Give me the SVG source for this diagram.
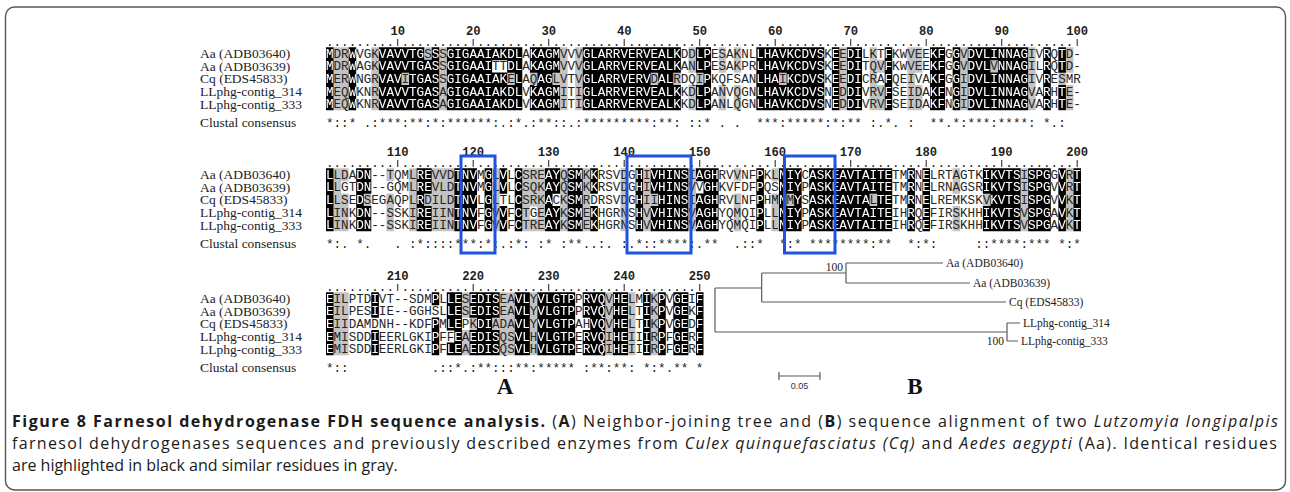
<svg xmlns="http://www.w3.org/2000/svg" width="1290" height="492" viewBox="0 0 1290 492">
<style>
.nm{font-family:"Liberation Serif","Times New Roman",serif;font-size:13.5px;fill:#222}
.sq{font-family:"Liberation Mono","Courier New",monospace;font-size:12.58px}
.cs{font-family:"Liberation Mono","Courier New",monospace;font-size:12.58px;fill:#222}
.num{font-family:"Liberation Mono","Courier New",monospace;font-size:12.2px;font-weight:bold;fill:#222;text-anchor:middle}
.bar{stroke:#333;stroke-width:1.1;fill:none}
.box{fill:none;stroke:#1f52e0;stroke-width:3}
.gr{fill:#c3c3c3}
.br{stroke:#5a5a5a;stroke-width:1.2;fill:none}
.tl{font-family:"Liberation Serif","Times New Roman",serif;font-size:11.5px;fill:#222}
.bs{font-family:"Liberation Sans",Arial,sans-serif;font-size:9px;fill:#333;text-anchor:middle}
.lab{font-family:"Liberation Serif","Times New Roman",serif;font-size:23px;font-weight:bold;fill:#111;text-anchor:middle}
.cap{font-family:"Open Sans","Noto Sans",sans-serif;font-size:16px;fill:#1a1a1a}
</style>
<defs>
<g id="k1" transform="translate(326 47.2) scale(7.55 12.6)"><path d="M0 0h1v1.03h-1z M3 0h1v1.03h-1z M7 0h6v1.03h-6z M14 0h1v1.03h-1z M16 0h10v1.03h-10z M27 0h4v1.03h-4z M34 0h13v1.03h-13z M49 0h2v1.03h-2z M57 0h9v1.03h-9z M67 0h1v1.03h-1z M69 0h2v1.03h-2z M74 0h1v1.03h-1z M80 0h2v1.03h-2z M83 0h1v1.03h-1z M85 0h8v1.03h-8z M95 0h1v1.03h-1z M97 0h1v1.03h-1z M0 1h1v1.03h-1z M3 1h1v1.03h-1z M7 1h8v1.03h-8z M16 1h6v1.03h-6z M24 1h2v1.03h-2z M27 1h4v1.03h-4z M34 1h13v1.03h-13z M49 1h2v1.03h-2z M57 1h9v1.03h-9z M67 1h1v1.03h-1z M69 1h2v1.03h-2z M74 1h1v1.03h-1z M80 1h2v1.03h-2z M83 1h1v1.03h-1z M85 1h3v1.03h-3z M89 1h4v1.03h-4z M95 1h1v1.03h-1z M97 1h1v1.03h-1z M0 2h1v1.03h-1z M3 2h1v1.03h-1z M7 2h3v1.03h-3z M11 2h4v1.03h-4z M16 2h8v1.03h-8z M25 2h1v1.03h-1z M28 2h2v1.03h-2z M34 2h9v1.03h-9z M44 2h2v1.03h-2z M50 2h1v1.03h-1z M57 2h3v1.03h-3z M61 2h5v1.03h-5z M67 2h1v1.03h-1z M69 2h2v1.03h-2z M74 2h1v1.03h-1z M80 2h2v1.03h-2z M83 2h1v1.03h-1z M85 2h8v1.03h-8z M95 2h1v1.03h-1z M0 3h1v2h-1z M3 3h1v2h-1z M7 3h8v2h-8z M16 3h10v2h-10z M27 3h4v2h-4z M34 3h13v2h-13z M49 3h2v2h-2z M57 3h9v2h-9z M67 3h1v2h-1z M69 3h2v2h-2z M74 3h1v2h-1z M80 3h2v2h-2z M83 3h1v2h-1z M85 3h8v2h-8z M95 3h1v2h-1z M97 3h1v2h-1z"/></g>
<g id="k2" transform="translate(326 168.2) scale(7.55 12.6)"><path d="M0 0h1v1.03h-1z M4 0h2v1.03h-2z M12 0h2v1.03h-2z M17 0h3v1.03h-3z M21 0h1v1.03h-1z M23 0h1v1.03h-1z M25 0h1v1.03h-1z M29 0h2v1.03h-2z M32 0h2v1.03h-2z M35 0h1v1.03h-1z M41 0h1v1.03h-1z M43 0h5v1.03h-5z M49 0h3v1.03h-3z M57 0h1v1.03h-1z M60 0h3v1.03h-3z M64 0h11v1.03h-11z M77 0h1v1.03h-1z M79 0h1v1.03h-1z M87 0h5v1.03h-5z M93 0h3v1.03h-3z M97 0h1v1.03h-1z M99 0h1v1.03h-1z M0 1h1v1.03h-1z M4 1h2v1.03h-2z M12 1h2v1.03h-2z M17 1h3v1.03h-3z M21 1h1v1.03h-1z M23 1h1v1.03h-1z M25 1h1v1.03h-1z M29 1h2v1.03h-2z M32 1h2v1.03h-2z M35 1h1v1.03h-1z M41 1h1v1.03h-1z M43 1h5v1.03h-5z M50 1h2v1.03h-2z M57 1h1v1.03h-1z M60 1h3v1.03h-3z M64 1h11v1.03h-11z M77 1h1v1.03h-1z M79 1h1v1.03h-1z M87 1h5v1.03h-5z M93 1h3v1.03h-3z M97 1h1v1.03h-1z M99 1h1v1.03h-1z M0 2h1v1.03h-1z M4 2h1v1.03h-1z M12 2h1v1.03h-1z M17 2h3v1.03h-3z M21 2h1v1.03h-1z M25 2h1v1.03h-1z M29 2h1v1.03h-1z M32 2h2v1.03h-2z M41 2h1v1.03h-1z M44 2h4v1.03h-4z M49 2h3v1.03h-3z M57 2h1v1.03h-1z M60 2h1v1.03h-1z M62 2h1v1.03h-1z M64 2h8v1.03h-8z M73 2h2v1.03h-2z M77 2h1v1.03h-1z M79 2h1v1.03h-1z M88 2h4v1.03h-4z M93 2h3v1.03h-3z M97 2h1v1.03h-1z M99 2h1v1.03h-1z M0 3h1v2h-1z M4 3h2v2h-2z M12 3h2v2h-2z M17 3h3v2h-3z M21 3h1v2h-1z M23 3h1v2h-1z M25 3h1v2h-1z M29 3h2v2h-2z M32 3h2v2h-2z M35 3h1v2h-1z M41 3h1v2h-1z M43 3h5v2h-5z M49 3h3v2h-3z M57 3h1v2h-1z M60 3h3v2h-3z M64 3h11v2h-11z M77 3h1v2h-1z M79 3h1v2h-1z M87 3h5v2h-5z M93 3h3v2h-3z M97 3h1v2h-1z M99 3h1v2h-1z"/></g>
<g id="k3" transform="translate(326 292.2) scale(7.55 12.6)"><path d="M0 0h1v1.03h-1z M6 0h1v1.03h-1z M14 0h1v1.03h-1z M16 0h2v1.03h-2z M19 0h4v1.03h-4z M25 0h2v1.03h-2z M28 0h5v1.03h-5z M34 0h3v1.03h-3z M38 0h2v1.03h-2z M42 0h1v1.03h-1z M44 0h1v1.03h-1z M46 0h2v1.03h-2z M49 0h1v1.03h-1z M0 1h1v1.03h-1z M6 1h1v1.03h-1z M16 1h2v1.03h-2z M19 1h4v1.03h-4z M25 1h2v1.03h-2z M28 1h5v1.03h-5z M34 1h3v1.03h-3z M38 1h2v1.03h-2z M42 1h1v1.03h-1z M44 1h1v1.03h-1z M46 1h2v1.03h-2z M49 1h1v1.03h-1z M0 2h1v1.03h-1z M14 2h1v1.03h-1z M16 2h2v1.03h-2z M20 2h2v1.03h-2z M25 2h2v1.03h-2z M28 2h5v1.03h-5z M35 2h2v1.03h-2z M38 2h2v1.03h-2z M42 2h1v1.03h-1z M44 2h1v1.03h-1z M46 2h2v1.03h-2z M49 2h1v1.03h-1z M0 3h1v1.03h-1z M6 3h1v1.03h-1z M14 3h1v1.03h-1z M17 3h1v1.03h-1z M19 3h4v1.03h-4z M25 3h2v1.03h-2z M28 3h5v1.03h-5z M34 3h3v1.03h-3z M38 3h2v1.03h-2z M42 3h1v1.03h-1z M44 3h1v1.03h-1z M46 3h2v1.03h-2z M49 3h1v1.03h-1z M0 4h1v1h-1z M6 4h1v1h-1z M14 4h1v1h-1z M16 4h2v1h-2z M19 4h4v1h-4z M25 4h2v1h-2z M28 4h5v1h-5z M34 4h3v1h-3z M38 4h2v1h-2z M42 4h1v1h-1z M44 4h1v1h-1z M46 4h2v1h-2z M49 4h1v1h-1z"/></g>
<mask id="mk1" maskUnits="userSpaceOnUse" x="0" y="0" width="1290" height="492"><use href="#k1" fill="#fff"/></mask>
<mask id="mk2" maskUnits="userSpaceOnUse" x="0" y="0" width="1290" height="492"><use href="#k2" fill="#fff"/></mask>
<mask id="mk3" maskUnits="userSpaceOnUse" x="0" y="0" width="1290" height="492"><use href="#k3" fill="#fff"/></mask>
<g id="t1" class="sq">
<text x="326" y="57.8">MDRWVGKVAVVTGSSSGIGAAIAKDLAKAGMVVVGLARRVERVEALKDDLPESAKNLLHAVKCDVSKEEDILKTFKWVEEKFGGVDVLINNAGIVRQTD-</text>
<text x="326" y="70.4">MDRWAGKVAVVTGASSGIGAAITTDLAKAGMVVVGLARRVERVEALKANLPESAKPRLHAVKCDVSKEEDITQVFKWVEEKFGGVDVLVNNAGILRQTD-</text>
<text x="326" y="83">MERWNGRVAVITGASSGIGAAIAKELAQAGLVTVGLARRVERVDALRDQIPKQFSANLHAIKCDVSKEEDICRAFQEIVAKFGGIDVLINNAGIVRESMR</text>
<text x="326" y="95.6">MEQWKNRVAVVTGASAGIGAAIAKDLVKAGMITIGLARRVERVEALKKDLPANVQGNLHAVKCDVSNEDDIVRVFSEIDAKFNGIDVLINNAGVARHTE-</text>
<text x="326" y="108.2">MEQWKNRVAVVTGASAGIGAAIAKDLVKAGMITIGLARRVERVEALKKDLPANLQGNLHAVKCDVSNEDDIVRVFSEIDAKFNGIDVLINNAGVARHTE-</text>
</g>
<g id="t2" class="sq">
<text x="326" y="178.8">LLDADN--TQMLREVVDTNVMGLVLCSREAYQSMKKRSVDGHIVHINSIAGHRVVNFPKLNIYCASKEAVTAITETMRNELRTAGTKIKVTSISPGGVRT</text>
<text x="326" y="191.4">LLGTDN--GQMLREVLDTNVMGLVLCSQKAYQSMKKRSVDGHIVHINSVVGHKVFDFPQSNIYPASKEAVTAITETMRNELRNAGSRIKVTSISPGVVRT</text>
<text x="326" y="204">LLSEDSEGAQPLRDILDTNVLGLTLCSRKACKSMRDRSVDGHIIHINSIAGHRVLNFPHMNMYSASKEAVTALTETMRNELREMKSKVKVTSISPGVVKT</text>
<text x="326" y="216.6">LINKDN--SSKIREIINTNVFGVVFCTGEAYKSMEKHGRNSHVVHINSVAGHYQMQIPLLNIYPASKEAVTAITEIHRQEFIRSKHHIKVTSVSPGAVKT</text>
<text x="326" y="229.2">LINKDN--SSKIREIINTNVFGVVFCTREAYKSMEKHGRNSHVVHINSVAGHYQMQIPLLNIYPASKEAVTAITEIHRQEFIRSKHHIKVTSVSPGAVKT</text>
</g>
<g id="t3" class="sq">
<text x="326" y="302.8">EILPTDIVT--SDMPLLESEDISEAVLYVLGTPPRVQVHELMIKPVGEIF</text>
<text x="326" y="315.4">EILPESIIE--GGHSLLESEDISEAVLYVLGTPPRVQVHELTIKPVGEKF</text>
<text x="326" y="328">EIIDAMDNH--KDFPMLEPKDIADAVLYVLGTPAHVQVHELTIKPVGEDF</text>
<text x="326" y="340.6">EMISDDIEERLGKIPFFEAEDISQSVLHVLGTPERVQIHEIIIRPFGERF</text>
<text x="326" y="353.2">EMISDDIEERLGKIPFLEAEDISQSVLHVLGTPERVQIHEIIIRPFGERF</text>
</g>
</defs>

<rect x="5.5" y="7" width="1280" height="483" rx="9" fill="none" stroke="#555" stroke-width="1.4"/>

<g id="block1">
<g class="nm">
<text x="200" y="58.1">Aa (ADB03640)</text>
<text x="200" y="70.7">Aa (ADB03639)</text>
<text x="200" y="83.3">Cq (EDS45833)</text>
<text x="200" y="95.9">LLphg-contig_314</text>
<text x="200" y="108.5">LLphg-contig_333</text>
<text x="200" y="127.4">Clustal consensus</text>
</g>
<g class="num">
<text x="397.7" y="34.5">10</text><text x="473.2" y="34.5">20</text><text x="548.7" y="34.5">30</text><text x="624.2" y="34.5">40</text><text x="699.7" y="34.5">50</text><text x="775.2" y="34.5">60</text><text x="850.7" y="34.5">70</text><text x="926.2" y="34.5">80</text><text x="1001.7" y="34.5">90</text><text x="1077.2" y="34.5">100</text>
</g>
<text class="cs" x="326" y="46" xml:space="preserve">......... ......... ......... ......... ......... ......... ......... ......... ......... .........</text>
<path class="bar" d="M397.7 39v7M473.2 39v7M548.7 39v7M624.2 39v7M699.7 39v7M775.2 39v7M850.7 39v7M926.2 39v7M1001.7 39v7M1077.2 39v7"/>
<g class="gr" transform="translate(326 47.2) scale(7.55 12.6)"><path d="M1 0h2v1.03h-2z M6 0h1v1.03h-1z M13 0h1v1.03h-1z M15 0h1v1.03h-1z M31 0h1v1.03h-1z M33 0h1v1.03h-1z M48 0h1v1.03h-1z M52 0h1v1.03h-1z M54 0h1v1.03h-1z M68 0h1v1.03h-1z M72 0h1v1.03h-1z M77 0h2v1.03h-2z M84 0h1v1.03h-1z M93 0h1v1.03h-1z M98 0h1v1.03h-1z M1 1h2v1.03h-2z M6 1h1v1.03h-1z M15 1h1v1.03h-1z M31 1h1v1.03h-1z M33 1h1v1.03h-1z M48 1h1v1.03h-1z M52 1h1v1.03h-1z M54 1h1v1.03h-1z M68 1h1v1.03h-1z M72 1h2v1.03h-2z M77 1h2v1.03h-2z M84 1h1v1.03h-1z M88 1h1v1.03h-1z M93 1h1v1.03h-1z M98 1h1v1.03h-1z M1 2h2v1.03h-2z M6 2h1v1.03h-1z M10 2h1v1.03h-1z M15 2h1v1.03h-1z M24 2h1v1.03h-1z M27 2h1v1.03h-1z M30 2h2v1.03h-2z M33 2h1v1.03h-1z M43 2h1v1.03h-1z M46 2h1v1.03h-1z M49 2h1v1.03h-1z M60 2h1v1.03h-1z M68 2h1v1.03h-1z M72 2h1v1.03h-1z M77 2h1v1.03h-1z M84 2h1v1.03h-1z M93 2h1v1.03h-1z M97 2h1v1.03h-1z M1 3h2v2h-2z M6 3h1v2h-1z M15 3h1v2h-1z M31 3h1v2h-1z M33 3h1v2h-1z M48 3h1v2h-1z M52 3h1v2h-1z M54 3h1v2h-1z M68 3h1v2h-1z M72 3h2v2h-2z M77 3h2v2h-2z M84 3h1v2h-1z M93 3h1v2h-1z M98 3h1v2h-1z"/></g>
<use href="#k1" fill="#000"/>
<use href="#t1" fill="#262626"/>
<use href="#t1" fill="#fff" mask="url(#mk1)"/>
<text class="cs" x="326" y="126.9" xml:space="preserve">*::* .:***:**:*:******:.:*.:**::.:*********:**: ::* . .  ***:*****:*:** :.*. :  **.*:***:****: *.:  </text>
</g>

<g id="block2">
<g class="nm">
<text x="200" y="179.1">Aa (ADB03640)</text>
<text x="200" y="191.7">Aa (ADB03639)</text>
<text x="200" y="204.3">Cq (EDS45833)</text>
<text x="200" y="216.9">LLphg-contig_314</text>
<text x="200" y="229.5">LLphg-contig_333</text>
<text x="200" y="248.4">Clustal consensus</text>
</g>
<g class="num">
<text x="397.7" y="155.5">110</text><text x="473.2" y="155.5">120</text><text x="548.7" y="155.5">130</text><text x="624.2" y="155.5">140</text><text x="699.7" y="155.5">150</text><text x="775.2" y="155.5">160</text><text x="850.7" y="155.5">170</text><text x="926.2" y="155.5">180</text><text x="1001.7" y="155.5">190</text><text x="1077.2" y="155.5">200</text>
</g>
<text class="cs" x="326" y="167" xml:space="preserve">......... ......... ......... ......... ......... ......... ......... ......... ......... .........</text>
<path class="bar" d="M397.7 160v7M473.2 160v7M548.7 160v7M624.2 160v7M699.7 160v7M775.2 160v7M850.7 160v7M926.2 160v7M1001.7 160v7M1077.2 160v7"/>
<g class="gr" transform="translate(326 168.2) scale(7.55 12.6)"><path d="M1 0h2v1.03h-2z M8 0h1v1.03h-1z M11 0h1v1.03h-1z M14 0h3v1.03h-3z M22 0h1v1.03h-1z M26 0h3v1.03h-3z M31 0h1v1.03h-1z M34 0h1v1.03h-1z M39 0h1v1.03h-1z M42 0h1v1.03h-1z M48 0h1v1.03h-1z M54 0h1v1.03h-1z M59 0h1v1.03h-1z M83 0h1v1.03h-1z M92 0h1v1.03h-1z M98 0h1v1.03h-1z M1 1h1v1.03h-1z M11 1h1v1.03h-1z M14 1h3v1.03h-3z M22 1h1v1.03h-1z M26 1h3v1.03h-3z M31 1h1v1.03h-1z M34 1h1v1.03h-1z M39 1h1v1.03h-1z M42 1h1v1.03h-1z M48 1h1v1.03h-1z M83 1h1v1.03h-1z M92 1h1v1.03h-1z M98 1h1v1.03h-1z M1 2h2v1.03h-2z M5 2h1v1.03h-1z M8 2h1v1.03h-1z M11 2h1v1.03h-1z M13 2h4v1.03h-4z M22 2h1v1.03h-1z M26 2h3v1.03h-3z M31 2h1v1.03h-1z M34 2h1v1.03h-1z M39 2h1v1.03h-1z M42 2h2v1.03h-2z M48 2h1v1.03h-1z M54 2h1v1.03h-1z M59 2h1v1.03h-1z M61 2h1v1.03h-1z M72 2h1v1.03h-1z M87 2h1v1.03h-1z M92 2h1v1.03h-1z M98 2h1v1.03h-1z M1 3h2v1.03h-2z M8 3h1v1.03h-1z M11 3h1v1.03h-1z M14 3h3v1.03h-3z M22 3h1v1.03h-1z M26 3h1v1.03h-1z M28 3h1v1.03h-1z M31 3h1v1.03h-1z M34 3h1v1.03h-1z M39 3h1v1.03h-1z M42 3h1v1.03h-1z M48 3h1v1.03h-1z M54 3h1v1.03h-1z M59 3h1v1.03h-1z M83 3h1v1.03h-1z M92 3h1v1.03h-1z M98 3h1v1.03h-1z M1 4h2v1h-2z M8 4h1v1h-1z M11 4h1v1h-1z M14 4h3v1h-3z M22 4h1v1h-1z M26 4h3v1h-3z M31 4h1v1h-1z M34 4h1v1h-1z M39 4h1v1h-1z M42 4h1v1h-1z M48 4h1v1h-1z M54 4h1v1h-1z M59 4h1v1h-1z M83 4h1v1h-1z M92 4h1v1h-1z M98 4h1v1h-1z"/></g>
<use href="#k2" fill="#000"/>
<use href="#t2" fill="#262626"/>
<use href="#t2" fill="#fff" mask="url(#mk2)"/>
<text class="cs" x="326" y="247.9" xml:space="preserve">*:. *.   . :*::::***:*:.:*: :* :**..:. :.*::****:.**  .::*  *:* ********:**  *:*:     ::****:*** *:*</text>
<rect class="box" x="461" y="156" width="34" height="97"/>
<rect class="box" x="627" y="156" width="64" height="97"/>
<rect class="box" x="784.5" y="156" width="50.5" height="97"/>
</g>

<g id="block3">
<g class="nm">
<text x="200" y="303.1">Aa (ADB03640)</text>
<text x="200" y="315.7">Aa (ADB03639)</text>
<text x="200" y="328.3">Cq (EDS45833)</text>
<text x="200" y="340.9">LLphg-contig_314</text>
<text x="200" y="353.5">LLphg-contig_333</text>
<text x="200" y="372.4">Clustal consensus</text>
</g>
<g class="num">
<text x="397.7" y="279.5">210</text><text x="473.2" y="279.5">220</text><text x="548.7" y="279.5">230</text><text x="624.2" y="279.5">240</text><text x="699.7" y="279.5">250</text>
</g>
<text class="cs" x="326" y="291" xml:space="preserve">......... ......... ......... ......... .........</text>
<path class="bar" d="M397.7 284v7M473.2 284v7M548.7 284v7M624.2 284v7M699.7 284v7"/>
<g class="gr" transform="translate(326 292.2) scale(7.55 12.6)"><path d="M1 0h2v2.03h-2z M18 0h1v2.03h-1z M23 0h2v2.03h-2z M27 0h1v2.03h-1z M37 0h1v2.03h-1z M40 0h1v2.03h-1z M43 0h1v2.03h-1z M1 2h2v1.03h-2z M19 2h1v1.03h-1z M22 2h3v1.03h-3z M27 2h1v1.03h-1z M37 2h1v1.03h-1z M40 2h1v1.03h-1z M43 2h1v1.03h-1z M1 3h2v2h-2z M18 3h1v2h-1z M23 3h2v2h-2z M27 3h1v2h-1z M37 3h1v2h-1z M40 3h1v2h-1z M43 3h1v2h-1z"/></g>
<use href="#k3" fill="#000"/>
<use href="#t3" fill="#262626"/>
<use href="#t3" fill="#fff" mask="url(#mk3)"/>
<text class="cs" x="326" y="371.9" xml:space="preserve">*::           .::*.:**:::**:***** :**:**: *:*.** *</text>
<text class="lab" x="505" y="394">A</text>
</g>

<g id="tree">
<g id="connectors" class="br">
<path d="M715 288V332 M715 288H761.7 M761.7 273V302 M761.7 273H846 M846 263V283 M846 263H943 M846 283H970 M761.7 302H1006 M715 332H1007 M1007 323V341 M1007 323H1020 M1007 341H1018"/>
</g>
<g id="tree-labels" class="tl">
<text x="843" y="271" text-anchor="end">100</text>
<text x="946" y="267">Aa (ADB03640)</text>
<text x="973" y="287">Aa (ADB03639)</text>
<text x="1009" y="306">Cq (EDS45833)</text>
<text x="1023" y="327">LLphg-contig_314</text>
<text x="1004" y="345" text-anchor="end">100</text>
<text x="1021" y="345">LLphg-contig_333</text>
</g>
<g id="scalebar">
<path class="br" d="M779 376H820 M779 372V380 M820 372V380"/>
<text class="bs" x="799.5" y="389">0.05</text>
</g>
<text class="lab" x="915" y="394">B</text>
</g>

<g id="caption" class="cap">
<text x="12" y="427" textLength="1266" lengthAdjust="spacing"><tspan font-weight="bold">Figure 8 Farnesol dehydrogenase FDH sequence analysis.</tspan> (<tspan font-weight="bold">A</tspan>) Neighbor-joining tree and (<tspan font-weight="bold">B</tspan>) sequence alignment of two <tspan font-style="italic">Lutzomyia longipalpis</tspan></text>
<text x="12" y="449" textLength="1265" lengthAdjust="spacing">farnesol dehydrogenases sequences and previously described enzymes from <tspan font-style="italic">Culex quinquefasciatus (Cq)</tspan> and <tspan font-style="italic">Aedes aegypti</tspan> (Aa). Identical residues</text>
<text x="12" y="471">are highlighted in black and similar residues in gray.</text>
</g>
</svg>
